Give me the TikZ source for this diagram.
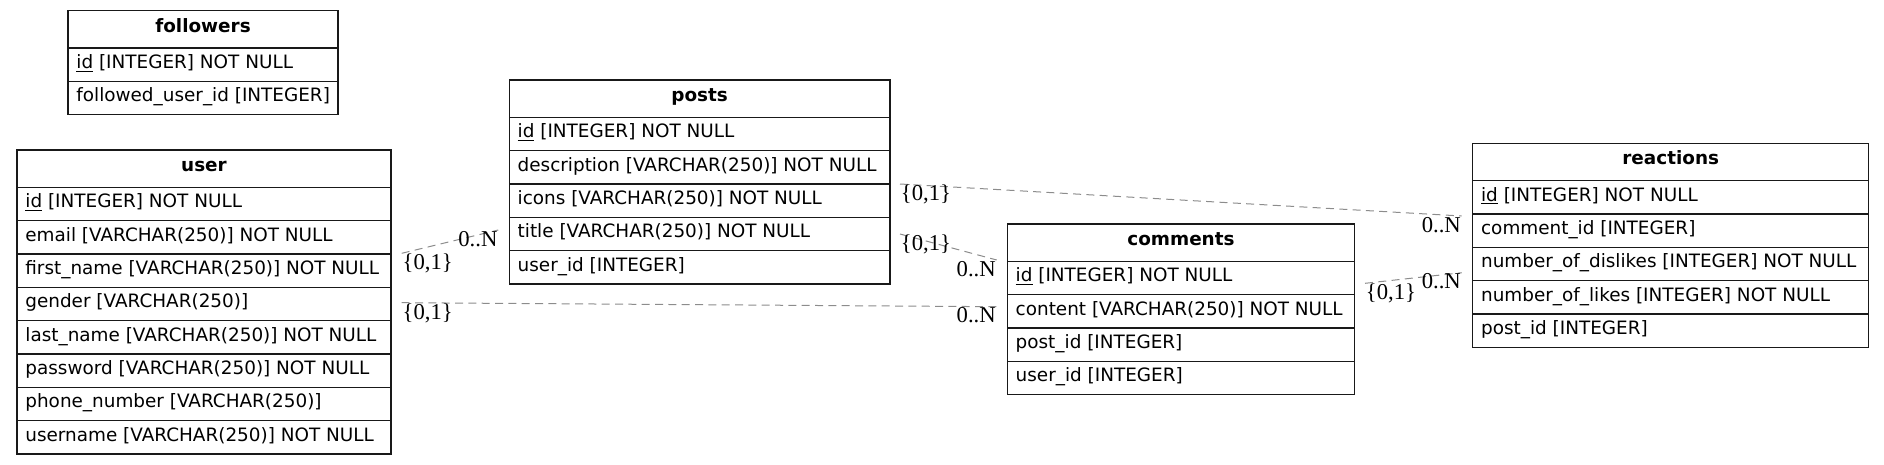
\documentclass[tikz,border=0pt]{standalone}
\usepackage{fontspec}
\setmainfont{DejaVu Sans}
\newfontfamily\lblfont{Liberation Serif}
\definecolor{relgray}{RGB}{140,140,140}
\tikzset{
  tbl/.style={draw=black!90, line width=0.9pt, outer sep=0pt},
  hdr/.style={tbl, anchor=north west, minimum width=#1, minimum height=27.97pt, inner sep=0pt,
    text height=9.5pt, text depth=5pt, font=\fontsize{13.8}{16}\selectfont\bfseries},
  fld/.style={tbl, anchor=north west, minimum height=25pt, inner xsep=6.3pt, inner ysep=0pt,
    text height=10pt, text depth=4pt, font=\fontsize{13.8}{16}\selectfont,
    execute at begin node={\hbox to #1\bgroup}, execute at end node={\hss\egroup}},
  rel/.style={draw=relgray, line width=0.75pt, dash pattern=on 6pt off 4pt},
  card/.style={font=\lblfont\fontsize{17}{19}\selectfont, inner sep=0.5pt, text=black},
}
\begin{document}
\begin{tikzpicture}[x=0.75pt, y=-0.75pt]
\useasboundingbox (0,0) rectangle (1884,464);
% followers
\node[hdr=202.5pt] (fo) at (68,10.7) {followers};
\node[fld=189.9pt] (fo1) at (fo.south west) {\underline{id} [INTEGER] NOT NULL};
\node[fld=189.9pt] (fo2) at (fo1.south west) {followed\_user\_id [INTEGER]};
% user
\node[hdr=280.5pt] (us) at (17,150) {user};
\node[fld=267.9pt] (us1) at (us.south west) {\underline{id} [INTEGER] NOT NULL};
\node[fld=267.9pt] (us2) at (us1.south west) {email [VARCHAR(250)] NOT NULL};
\node[fld=267.9pt] (us3) at (us2.south west) {first\_name [VARCHAR(250)] NOT NULL};
\node[fld=267.9pt] (us4) at (us3.south west) {gender [VARCHAR(250)]};
\node[fld=267.9pt] (us5) at (us4.south west) {last\_name [VARCHAR(250)] NOT NULL};
\node[fld=267.9pt] (us6) at (us5.south west) {password [VARCHAR(250)] NOT NULL};
\node[fld=267.9pt] (us7) at (us6.south west) {phone\_number [VARCHAR(250)]};
\node[fld=267.9pt] (us8) at (us7.south west) {username [VARCHAR(250)] NOT NULL};
% posts
\node[hdr=285.5pt] (po) at (509.3,80) {posts};
\node[fld=272.9pt] (po1) at (po.south west) {\underline{id} [INTEGER] NOT NULL};
\node[fld=272.9pt] (po2) at (po1.south west) {description [VARCHAR(250)] NOT NULL};
\node[fld=272.9pt] (po3) at (po2.south west) {icons [VARCHAR(250)] NOT NULL};
\node[fld=272.9pt] (po4) at (po3.south west) {title [VARCHAR(250)] NOT NULL};
\node[fld=272.9pt] (po5) at (po4.south west) {user\_id [INTEGER]};
% comments
\node[hdr=260.5pt] (co) at (1007.3,224) {comments};
\node[fld=247.9pt] (co1) at (co.south west) {\underline{id} [INTEGER] NOT NULL};
\node[fld=247.9pt] (co2) at (co1.south west) {content [VARCHAR(250)] NOT NULL};
\node[fld=247.9pt] (co3) at (co2.south west) {post\_id [INTEGER]};
\node[fld=247.9pt] (co4) at (co3.south west) {user\_id [INTEGER]};
% reactions
\node[hdr=297pt] (re) at (1472.7,143.3) {reactions};
\node[fld=284.4pt] (re1) at (re.south west) {\underline{id} [INTEGER] NOT NULL};
\node[fld=284.4pt] (re2) at (re1.south west) {comment\_id [INTEGER]};
\node[fld=284.4pt] (re3) at (re2.south west) {number\_of\_dislikes [INTEGER] NOT NULL};
\node[fld=284.4pt] (re4) at (re3.south west) {number\_of\_likes [INTEGER] NOT NULL};
\node[fld=284.4pt] (re5) at (re4.south west) {post\_id [INTEGER]};
% relation end points
\coordinate (tA) at (401.7,253.3); \coordinate (hA) at (498.3,230);
\coordinate (tB) at (401.7,302.7); \coordinate (hB) at (996.7,306.7);
\coordinate (tC) at (900,184);     \coordinate (hC) at (1461.7,216);
\coordinate (tD) at (900,234);     \coordinate (hD) at (996.7,260);
\coordinate (tE) at (1365,283.3);  \coordinate (hE) at (1461.7,272.7);
\draw[rel] (tA) -- (hA);
\draw[rel] (tB) -- (hB);
\draw[rel] (tC) -- (hC);
\draw[rel] (tD) -- (hD);
\draw[rel] (tE) -- (hE);
\node[card, anchor=north west] (lA1) at (tA) {\{0,1\}};
\node[card, anchor=north east] (lA2) at (hA) {0..N};
\node[card, anchor=north west] (lB1) at (tB) {\{0,1\}};
\node[card, anchor=north east] (lB2) at (hB) {0..N};
\node[card, anchor=north west] (lC1) at (tC) {\{0,1\}};
\node[card, anchor=north east] (lC2) at (hC) {0..N};
\node[card, anchor=north west] (lD1) at (tD) {\{0,1\}};
\node[card, anchor=north east] (lD2) at (hD) {0..N};
\node[card, anchor=north west] (lE1) at (tE) {\{0,1\}};
\node[card, anchor=north east] (lE2) at (hE) {0..N};
\end{tikzpicture}
\end{document}
